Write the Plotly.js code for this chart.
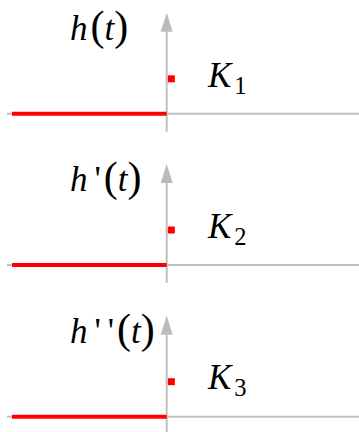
<!DOCTYPE html>
<html>
<head>
<meta charset="utf-8">
<script src="https://cdn.plot.ly/plotly-3.0.1.min.js"></script>
<style>
  html, body { margin: 0; padding: 0; background: #fff; }
  #chart { width: 359px; height: 432px; }
</style>
</head>
<body>
<div id="chart"></div>
<script>
// Step response and its derivatives: zero for t < 0
const stepT = [-1, 0];
const stepH = [0, 0];
// Impulse at t = 0+ with weight K for each panel
const impulseT = [0.03];
const impulseK = [1, 1, 1];
// Panel labels
const funcName = 'h';
const primeCounts = [0, 1, 2];
const constName = 'K';
const constSubs = ['1', '2', '3'];

// Geometry (pixels) of the figure
const W = 359, H = 432;
const T0_PX = 166.7, PX_PER_T = 154.7;   // x position of t = 0, scale
const PX_PER_Y = 35;                     // vertical scale in every panel
const axisPx = [113.8, 265, 416.7];      // vertical pixel of each time axis
const panelH = H / 3;

const RED = '#ff0000';
const GREY = '#c0c0c0';
const ARROW = '#bbbbbb';

const xRange = [-T0_PX / PX_PER_T, (W - T0_PX) / PX_PER_T];
const axLeft = (7 - T0_PX) / PX_PER_T;

const traces = [];
const shapes = [];
const annotations = [];
const layout = {
  width: W, height: H,
  margin: {l: 0, r: 0, t: 0, b: 0},
  paper_bgcolor: '#fff', plot_bgcolor: '#fff',
  showlegend: false,
  xaxis: {range: xRange, visible: false, fixedrange: true},
  shapes, annotations
};

const pHalf = 6 / PX_PER_T;   // half width of arrow head
const HS = '\u200A';          // hair space
const TS = '\u2009';          // thin space
const paren = s => `<span style="font-size:42px">${s}</span>`;
const prime = `${TS}'`;

for (let i = 0; i < 3; i++) {
  const ya = i === 0 ? 'y' : 'y' + (i + 1);
  const yKey = i === 0 ? 'yaxis' : 'yaxis' + (i + 1);
  const top = i * panelH, bottom = (i + 1) * panelH;
  layout[yKey] = {
    domain: [1 - (i + 1) / 3, 1 - i / 3],
    range: [-(bottom - axisPx[i]) / PX_PER_Y, (axisPx[i] - top) / PX_PER_Y],
    visible: false, fixedrange: true, anchor: 'x'
  };

  // time axis
  shapes.push({type: 'line', xref: 'x', yref: ya, x0: axLeft, x1: xRange[1], y0: 0, y1: 0,
               line: {color: GREY, width: 2}, layer: 'below'});
  // vertical axis with arrow head
  const yTip = 101 / PX_PER_Y, yBase = 82 / PX_PER_Y;
  shapes.push({type: 'line', xref: 'x', yref: ya, x0: 0, x1: 0, y0: -18 / PX_PER_Y, y1: yBase,
               line: {color: GREY, width: 2}, layer: 'below'});
  shapes.push({type: 'path', xref: 'x', yref: ya,
               path: `M ${-pHalf},${yBase} L ${pHalf},${yBase} L 0,${yTip} Z`,
               fillcolor: ARROW, line: {width: 0}, layer: 'below'});

  traces.push({x: stepT, y: stepH, xaxis: 'x', yaxis: ya, mode: 'lines',
               line: {color: RED, width: 4}, hoverinfo: 'skip'});
  traces.push({x: impulseT, y: [impulseK[i]], xaxis: 'x', yaxis: ya, mode: 'markers',
               marker: {color: RED, size: 7, symbol: 'square'}, hoverinfo: 'skip'});

  annotations.push({
    xref: 'x', yref: ya, x: -0.635, y: 2.5, xanchor: 'left', yanchor: 'middle',
    showarrow: false,
    text: `<i>${funcName}</i>${prime.repeat(primeCounts[i])}${HS}${paren('(')}<i>t</i>${paren(')')}`,
    font: {family: 'Liberation Serif', size: 35, color: '#000'}
  });
  annotations.push({
    xref: 'x', yref: ya, x: 0.25, y: 1.05, xanchor: 'left', yanchor: 'middle',
    showarrow: false,
    text: `<i>${constName}</i>${HS}<sub>${constSubs[i]}</sub>`,
    font: {family: 'Liberation Serif', size: 35, color: '#000'}
  });
}

Plotly.newPlot('chart', traces, layout, {staticPlot: true, displayModeBar: false});
</script>
</body>
</html>
